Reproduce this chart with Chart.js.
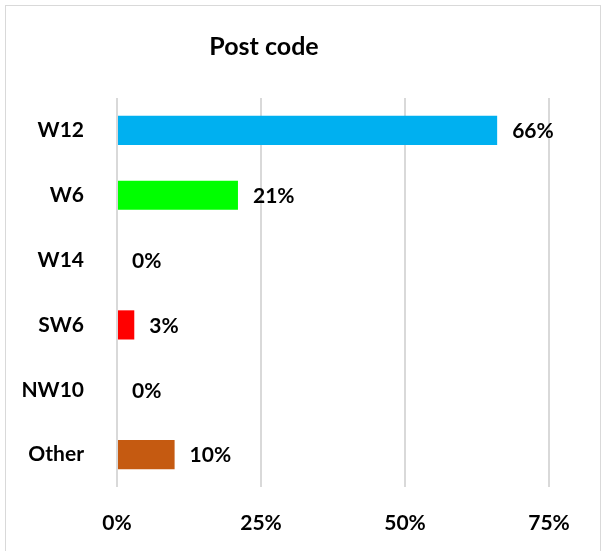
<!DOCTYPE html>
<html>
<head>
<meta charset="utf-8">
<script src="https://cdn.jsdelivr.net/npm/chart.js@4"></script>
<style>
  html, body { margin: 0; padding: 0; background: #fff; }
  #wrap { width: 603px; height: 551px; position: relative; }
</style>
</head>
<body>
<div id="wrap"><canvas id="postChart"></canvas></div>
<script>
// Chart data
const chartTitle = "Post code";
const postCodes = ["W12", "W6", "W14", "SW6", "NW10", "Other"];
const shares = [66, 21, 0, 3, 0, 10];
const barColors = ["#00B0F0", "#00FF00", "#00B0F0", "#FF0000", "#00B0F0", "#C55A11"];
const xTicks = [0, 25, 50, 75];

const FONT = "Lato, 'Noto Sans', sans-serif";

// frame around the chart + title (title sits a bit left of centre, like the original)
const framePlugin = {
  id: "frame",
  beforeDraw(chart) {
    const ctx = chart.ctx;
    ctx.save();
    ctx.strokeStyle = "#D9D9D9";
    ctx.lineWidth = 1;
    ctx.strokeRect(5.5, 5.5, 595, 560);
    ctx.font = "bold 25px " + FONT;
    ctx.fillStyle = "#000";
    ctx.textAlign = "center";
    ctx.textBaseline = "middle";
    ctx.fillText(chartTitle, 264, 47);
    ctx.restore();
  },
};

// value labels to the right of each bar
const valueLabels = {
  id: "valueLabels",
  afterDatasetsDraw(chart) {
    const ctx = chart.ctx;
    const meta = chart.getDatasetMeta(0);
    ctx.save();
    ctx.font = "bold 21px " + FONT;
    ctx.fillStyle = "#000";
    ctx.textBaseline = "middle";
    ctx.textAlign = "left";
    meta.data.forEach((bar, i) => {
      ctx.fillText(shares[i] + "%", bar.x + 15, bar.y + 1);
    });
    ctx.restore();
  },
};

new Chart(document.getElementById("postChart"), {
  type: "bar",
  data: {
    labels: postCodes,
    datasets: [
      {
        data: shares,
        backgroundColor: barColors,
        barPercentage: 0.45,
        categoryPercentage: 1,
      },
    ],
  },
  options: {
    indexAxis: "y",
    responsive: true,
    maintainAspectRatio: false,
    animation: false,
    layout: {
      padding: { left: 0, right: 54, top: 98, bottom: 0 },
    },
    plugins: {
      legend: { display: false },
      tooltip: { enabled: false },
      title: { display: false },
    },
    scales: {
      x: {
        min: 0,
        max: 75,
        afterBuildTicks(scale) {
          scale.ticks = xTicks.map((v) => ({ value: v }));
        },
        afterFit(scale) {
          scale.height = 64;
        },
        grid: { color: "#D9D9D9", lineWidth: 2, drawTicks: false },
        border: { display: false },
        ticks: {
          padding: 24,
          color: "#000",
          font: { family: FONT, size: 21, weight: "bold" },
          callback: (v) => v + "%",
        },
      },
      y: {
        afterFit(scale) {
          scale.width = 117;
        },
        grid: { display: false },
        border: { display: false },
        ticks: {
          padding: 25,
          color: "#000",
          font: { family: FONT, size: 21, weight: "bold" },
        },
      },
    },
  },
  plugins: [framePlugin, valueLabels],
});
</script>
</body>
</html>
